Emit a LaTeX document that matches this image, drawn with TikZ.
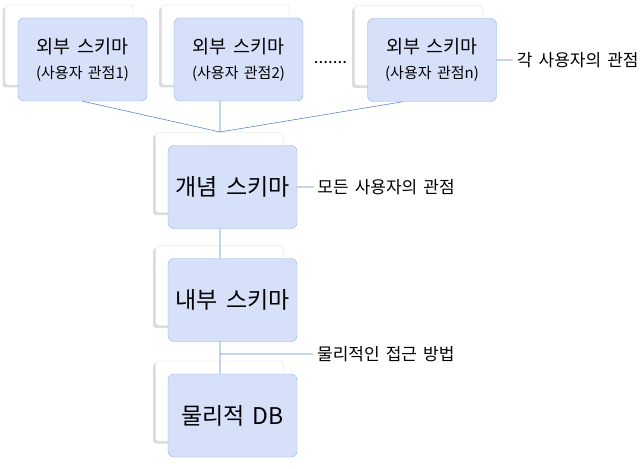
\documentclass[tikz,border=0pt]{standalone}
\usepackage{fontspec}
\setmainfont{Noto Sans CJK KR}[WordSpace=1.6]
\usetikzlibrary{positioning,shadows}
\definecolor{khung}{HTML}{8DB3E2}
\definecolor{nen}{HTML}{D6E0F8}
\definecolor{mau}{HTML}{5B87C8}
\begin{document}
\begin{tikzpicture}[x=1pt,y=-1pt,line join=round,line cap=round,
	sau/.style={draw=gray!25,fill=white,rounded corners=3pt,minimum width=128pt,minimum height=80pt,
		drop shadow={shadow xshift=-2.5pt,shadow yshift=-2.5pt,opacity=0.45,fill=gray!60}},
	truoc/.style={draw=khung,fill=nen,rounded corners=6pt,minimum width=129pt,minimum height=83pt,align=center,inner sep=0pt},
	noi/.style={draw=mau,line width=0.6pt},
	nhan/.style={font=\fontsize{17}{20}\selectfont,inner sep=4pt}]
	\useasboundingbox (0,0) rectangle (644,468);
	\def\nho{\fontsize{15}{18}\selectfont} \def\vua{\fontsize{18.5}{20}\selectfont}
	\def\lon{\fontsize{23}{26}\selectfont} % co chu
	\foreach \x/\y [count=\i] in {69/45,225.5/45,418.5/45.5,219.5/172.5,219.5/285.5,219.5/401}
		\node[sau] (sau\i) at (\x,\y) {};
	\node[truoc] (ngoai1) at (82.5,59.5) {\vua 외부 스키마\\[10pt]\nho(사용자 관점1)};
	\node[truoc] (ngoai2) at (238.5,59.5) {\vua 외부 스키마\\[10pt]\nho(사용자 관점2)};
	\node[truoc] (ngoai3) at (432,60) {\vua 외부 스키마\\[10pt]\nho(사용자 관점n)};
	\node[truoc] (khainiem) at (232.5,187) {\lon 개념 스키마};
	\node[truoc] (trong) at (232.5,300) {\lon 내부 스키마};
	\node[truoc] (vatly) at (232.5,415.5) {\lon 물리적 DB};
	\node[nhan] (cham) at (330.5,63) {.......};
	\node[nhan,right=16pt of ngoai3] (nhan1) {각 사용자의 관점};
	\node[nhan,right=16pt of khainiem] (nhan2) {모든 사용자의 관점};
	\node[nhan,anchor=west] (nhan3) at (313,354) {물리적인 접근 방법};
	\coordinate (j) at (220,132);
	\draw[noi] (ngoai1.south)--(j)--(j |- ngoai2.south)
	([xshift=-29pt]ngoai3.south)--(j)
	(j |- khainiem.south)--(j |- trong.north)
	(j |- trong.south)--(j |- vatly.north)
	(j |- nhan3.west)--(nhan3.west)
	(ngoai3.east)--(nhan1.west)
	(khainiem.east)--(nhan2.west);
\end{tikzpicture}
\end{document}
